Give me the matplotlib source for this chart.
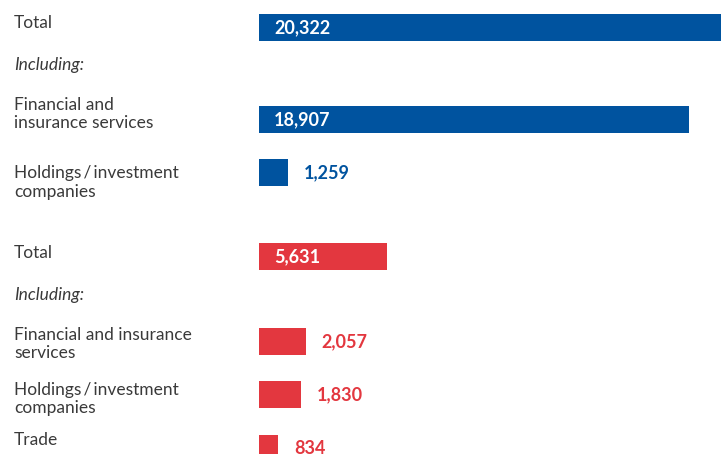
import matplotlib
matplotlib.use("Agg")
import matplotlib.pyplot as plt
from matplotlib.transforms import blended_transform_factory

# Values (EUR million)
blue_labels = ["Total", "Financial and\ninsurance services", "Holdings\u2009/\u2009investment\ncompanies"]
blue_values = [20322, 18907, 1259]

red_labels = ["Total", "Financial and insurance\nservices", "Holdings\u2009/\u2009investment\ncompanies", "Trade"]
red_values = [5631, 2057, 1830, 834]

BLUE = "#00539F"
RED = "#E3373F"
GREY = "#3a3a3a"

W, H, DPI = 727, 454, 100
fig = plt.figure(figsize=(W / DPI, H / DPI), dpi=DPI)
fig.patch.set_facecolor("white")

# bar area: starts at 259 px, scale ~0.0227 px per unit
bar_left = 259
px_per_unit = 0.02273
ax = fig.add_axes([bar_left / W, 0, 1 - bar_left / W, 1])
ax.set_xlim(0, (W - bar_left) / px_per_unit)
ax.set_ylim(H, 0)
ax.axis("off")

# row layout (pixels from top)
blue_rows = [27.5, 119.5, 172.5]
red_rows = [256.5, 341, 394, 448]
blue_baselines = [28, 110, 178]
red_baselines = [258, 340, 395, 445]
including_baselines = [70, 300]
bar_h = 27
line_gap = 18.5

label_font = dict(family=["Lato", "DejaVu Sans"], fontsize=12.5, color=GREY)
value_font = dict(family=["Lato", "DejaVu Sans"], fontsize=13, fontweight="bold")

tr_label = blended_transform_factory(fig.transFigure, ax.transData)
label_x = 14 / W


def draw_group(labels, values, rows, baselines, color):
    ax.barh(rows, values, height=bar_h, color=color, left=0)
    for lab, val, yc, yb in zip(labels, values, rows, baselines):
        for i, line in enumerate(lab.split("\n")):
            ax.text(label_x, yb + i * line_gap, line, transform=tr_label,
                    ha="left", va="baseline", **label_font)
        txt = f"{val:,}"
        bar_px = val * px_per_unit
        if bar_px > 100:
            ax.text(15 / px_per_unit, yc + 6, txt, ha="left", va="baseline",
                    color="white", **value_font)
        else:
            ax.text(val + 16 / px_per_unit, yc + 6, txt, ha="left", va="baseline",
                    color=color, **value_font)


draw_group(blue_labels, blue_values, blue_rows, blue_baselines, BLUE)
draw_group(red_labels, red_values, red_rows, red_baselines, RED)

for yb in including_baselines:
    ax.text(label_x, yb, "Including:", transform=tr_label, ha="left", va="baseline",
            style="italic", **label_font)

fig.savefig("out.png", dpi=DPI, facecolor="white")
